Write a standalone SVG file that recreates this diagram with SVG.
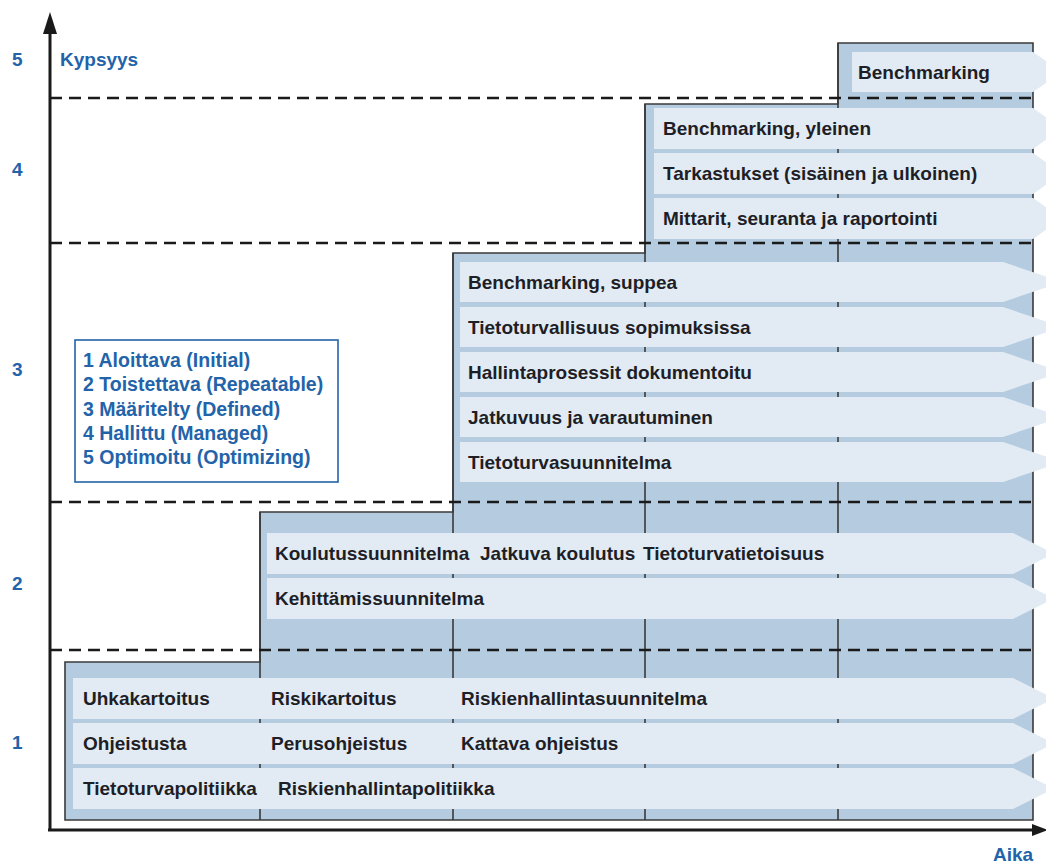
<svg xmlns="http://www.w3.org/2000/svg" width="1046" height="864" viewBox="0 0 1046 864">
<style>
.t{font-family:"Liberation Sans",Arial,sans-serif;font-weight:bold;font-size:19px;fill:#1e1e26}
.b{font-family:"Liberation Sans",Arial,sans-serif;font-weight:bold;font-size:19px;fill:#2363a9}
.lg{font-family:"Liberation Sans",Arial,sans-serif;font-weight:bold;font-size:19.5px;fill:#2363a9}
.ban{fill:#e2ebf4}
.grid{stroke:#3a3a3a;stroke-width:1.6;fill:none}
.dash{stroke:#1a1a1a;stroke-width:2.6;stroke-dasharray:12 7;fill:none}
.axis{stroke:#1a1a1a;stroke-width:3;fill:none}
</style>
<rect width="1046" height="864" fill="#ffffff"/>
<g id="steps">
<path d="M65,820 V662 H260 V512 H453 V253 H645 V104 H838 V43 H1033 V820 Z" fill="#b5cce0" stroke="#3a3a3a" stroke-width="1.6"/>
<path class="grid" d="M260,512 V820 M453,253 V820 M645,104 V820 M838,43 V820"/>
</g>
<g id="level1">
<path class="ban" d="M73,678 H1013 L1054,698.5 L1013,719 H73 Z"/>
<path class="ban" d="M73,723 H1013 L1054,743.5 L1013,764 H73 Z"/>
<path class="ban" d="M73,768 H1013 L1054,788.5 L1013,809 H73 Z"/>
<text class="t" x="83" y="705">Uhkakartoitus</text>
<text class="t" x="271" y="705">Riskikartoitus</text>
<text class="t" x="461" y="705">Riskienhallintasuunnitelma</text>
<text class="t" x="83" y="750">Ohjeistusta</text>
<text class="t" x="271" y="750">Perusohjeistus</text>
<text class="t" x="461" y="750">Kattava ohjeistus</text>
<text class="t" x="83" y="795">Tietoturvapolitiikka</text>
<text class="t" x="278" y="795">Riskienhallintapolitiikka</text>
</g>
<g id="level2">
<path class="ban" d="M267,533 H1013 L1054,553.5 L1013,574 H267 Z"/>
<path class="ban" d="M267,578 H1013 L1054,598.5 L1013,619 H267 Z"/>
<text class="t" x="275" y="560">Koulutussuunnitelma</text>
<text class="t" x="480" y="560">Jatkuva koulutus</text>
<text class="t" x="643" y="560">Tietoturvatietoisuus</text>
<text class="t" x="275" y="605">Kehittämissuunnitelma</text>
</g>
<g id="level3">
<path class="ban" d="M460,262 H1003 L1062,282 L1003,302 H460 Z"/>
<path class="ban" d="M460,307 H1003 L1062,327 L1003,347 H460 Z"/>
<path class="ban" d="M460,352 H1003 L1062,372 L1003,392 H460 Z"/>
<path class="ban" d="M460,397 H1003 L1062,417 L1003,437 H460 Z"/>
<path class="ban" d="M460,442 H1003 L1062,462 L1003,482 H460 Z"/>
<text class="t" x="468" y="289">Benchmarking, suppea</text>
<text class="t" x="468" y="334">Tietoturvallisuus sopimuksissa</text>
<text class="t" x="468" y="379">Hallintaprosessit dokumentoitu</text>
<text class="t" x="468" y="424">Jatkuvuus ja varautuminen</text>
<text class="t" x="468" y="469">Tietoturvasuunnitelma</text>
</g>
<g id="level4">
<path class="ban" d="M654,108 H1033 L1062,128.5 L1033,149 H654 Z"/>
<path class="ban" d="M654,153 H1033 L1062,173.5 L1033,194 H654 Z"/>
<path class="ban" d="M654,198 H1033 L1062,218.5 L1033,239 H654 Z"/>
<text class="t" x="663" y="135">Benchmarking, yleinen</text>
<text class="t" x="663" y="180">Tarkastukset (sisäinen ja ulkoinen)</text>
<text class="t" x="663" y="225">Mittarit, seuranta ja raportointi</text>
</g>
<g id="level5">
<path class="ban" d="M852,52 H1033 L1062,72 L1033,92 H852 Z"/>
<text class="t" x="858" y="79">Benchmarking</text>
</g>
<g id="connectors">
<path class="dash" d="M50,98 H1038 M50,243 H1038 M50,502 H1038 M50,650 H1038"/>
<path class="axis" d="M50,830 V30 M48,830 H1034"/>
<path d="M50,12 L57,34 L43,34 Z" fill="#1a1a1a"/>
<path d="M1048,830 L1032,824 L1032,836 Z" fill="#1a1a1a"/>
</g>
<g id="axislabels">
<text class="b" x="12" y="66">5</text>
<text class="b" x="12" y="176">4</text>
<text class="b" x="12" y="376">3</text>
<text class="b" x="12" y="590">2</text>
<text class="b" x="12" y="749">1</text>
<text class="b" x="60" y="66">Kypsyys</text>
<text class="b" x="993" y="861" font-size="21">Aika</text>
</g>
<g id="legend">
<rect x="75" y="340" width="263" height="142" fill="#ffffff" stroke="#2363a9" stroke-width="1.6"/>
<text class="lg" x="83" y="367">1 Aloittava (Initial)</text>
<text class="lg" x="83" y="391">2 Toistettava (Repeatable)</text>
<text class="lg" x="83" y="416">3 Määritelty (Defined)</text>
<text class="lg" x="83" y="440">4 Hallittu (Managed)</text>
<text class="lg" x="83" y="464">5 Optimoitu (Optimizing)</text>
</g>
</svg>
